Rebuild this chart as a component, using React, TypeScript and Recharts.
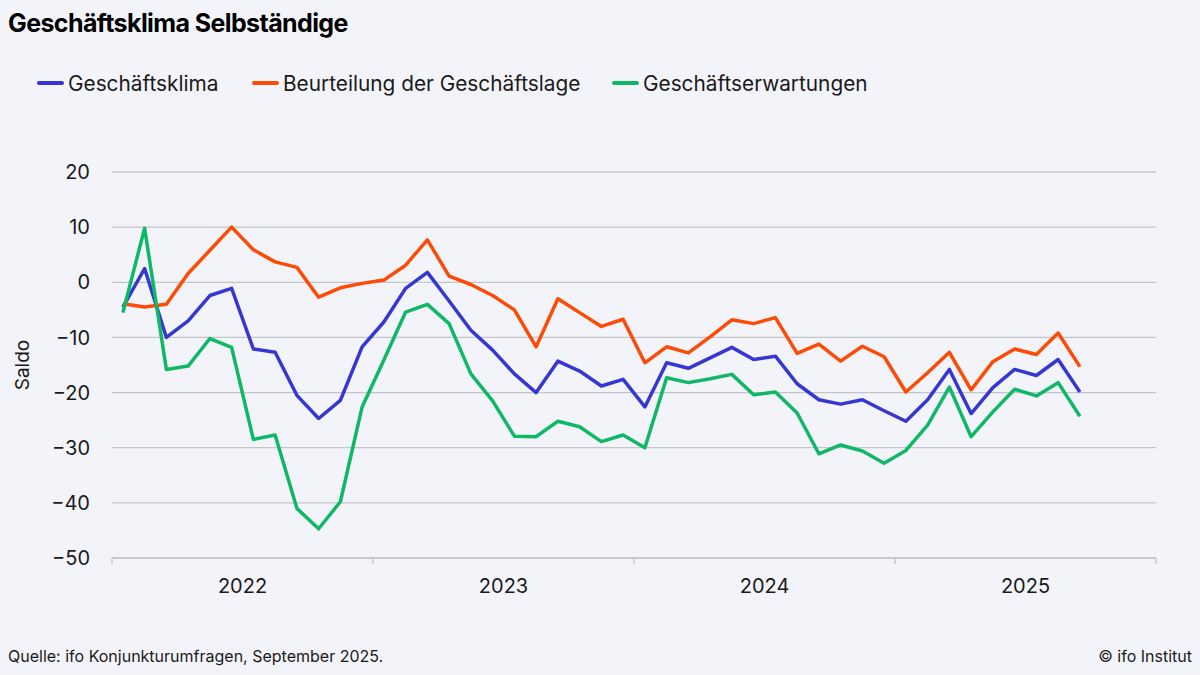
import React from 'react'
import { LineChart, Line, XAxis, YAxis, CartesianGrid } from 'recharts'

// Jan 2022 – Sep 2025, monthly
const months = [
  '2022-01', '2022-02', '2022-03', '2022-04', '2022-05', '2022-06', '2022-07', '2022-08', '2022-09', '2022-10', '2022-11', '2022-12',
  '2023-01', '2023-02', '2023-03', '2023-04', '2023-05', '2023-06', '2023-07', '2023-08', '2023-09', '2023-10', '2023-11', '2023-12',
  '2024-01', '2024-02', '2024-03', '2024-04', '2024-05', '2024-06', '2024-07', '2024-08', '2024-09', '2024-10', '2024-11', '2024-12',
  '2025-01', '2025-02', '2025-03', '2025-04', '2025-05', '2025-06', '2025-07', '2025-08', '2025-09',
]

const klima = [
  -4.5, 2.5, -10.0, -7.0, -2.4, -1.1, -12.1, -12.7, -20.5, -24.7, -21.4, -11.7,
  -7.2, -1.1, 1.8, -3.4, -8.7, -12.3, -16.6, -20.0, -14.3, -16.1, -18.8, -17.6,
  -22.6, -14.6, -15.6, -13.7, -11.8, -14.0, -13.4, -18.4, -21.3, -22.1, -21.3, -23.3,
  -25.2, -21.3, -15.8, -23.8, -19.1, -15.8, -16.9, -14.0, -19.9,
]

const lage = [
  -3.9, -4.5, -4.0, 1.6, 5.8, 10.0, 5.9, 3.7, 2.7, -2.7, -1.0, -0.2,
  0.4, 3.1, 7.7, 1.1, -0.4, -2.4, -5.0, -11.7, -3.0, -5.5, -8.0, -6.7,
  -14.6, -11.7, -12.8, -9.9, -6.8, -7.5, -6.4, -12.9, -11.2, -14.3, -11.6, -13.5,
  -19.9, -16.4, -12.7, -19.5, -14.4, -12.1, -13.1, -9.2, -15.3,
]

const erwartungen = [
  -5.5, 9.8, -15.8, -15.2, -10.2, -11.8, -28.5, -27.7, -41.0, -44.7, -39.8, -22.6,
  -14.1, -5.4, -4.0, -7.5, -16.6, -21.5, -27.9, -28.0, -25.2, -26.2, -28.9, -27.7,
  -30.0, -17.3, -18.2, -17.5, -16.7, -20.4, -19.9, -23.7, -31.1, -29.5, -30.6, -32.8,
  -30.5, -25.9, -19.0, -28.0, -23.5, -19.4, -20.6, -18.2, -24.3,
]

const years = ['2022', '2023', '2024', '2025']
const yTicks = [-50, -40, -30, -20, -10, 0, 10, 20]

const series = [
  { key: 'klima', name: 'Geschäftsklima', color: '#3636d2' },
  { key: 'lage', name: 'Beurteilung der Geschäftslage', color: '#fc4b06' },
  { key: 'erwartungen', name: 'Geschäftserwartungen', color: '#0fb866' },
]

// month slots are centred in their band: slot i covers [i, i+1]
const data = months.map((m, i) => ({
  month: m,
  x: i + 0.5,
  klima: klima[i],
  lage: lage[i],
  erwartungen: erwartungen[i],
}))

const boundaryTicks = [0, 12, 24, 36, 48]
const labelTicks = years.map((_, k) => k * 12 + 6)
const xTicks = [...boundaryTicks, ...labelTicks].sort((a, b) => a - b)

const FONT = 'Inter, "Noto Sans", sans-serif'
const TEXT = '#1a1a1a'
const GRID = '#c4c5cb'

const YearTick = (props: any) => {
  const { x, y, payload } = props
  const v = payload.value
  if (v % 12 === 0) {
    return <line x1={x} x2={x} y1={y} y2={y + 6} stroke={GRID} strokeWidth={1.3} />
  }
  return (
    <text x={x} y={y + 28} textAnchor="middle" dominantBaseline="central" fontSize={20} fill={TEXT} fontFamily={FONT}>
      {years[(v - 6) / 12]}
    </text>
  )
}

const SaldoLabel = (props: any) => {
  const { viewBox } = props
  const cx = viewBox.x + 22
  const cy = viewBox.y + viewBox.height / 2
  return (
    <text x={cx} y={cy} transform={`rotate(-90, ${cx}, ${cy})`} textAnchor="middle" dominantBaseline="central" fontSize={19} fill={TEXT} fontFamily={FONT}>
      Saldo
    </text>
  )
}

const legendOffsets = [37, 252, 612]

export default function App() {
  return (
    <div style={{ position: 'fixed', left: 0, top: 0, width: 1200, height: 675, background: '#f3f4f9', fontFamily: FONT, overflow: 'hidden' }}>
      <div style={{ position: 'absolute', left: 8, top: 8, fontSize: 25, fontWeight: 700, color: '#000', letterSpacing: -0.6 }}>
        Geschäftsklima Selbständige
      </div>
      {series.map((s, i) => (
        <div key={s.key} style={{ position: 'absolute', left: legendOffsets[i], top: 68, display: 'flex', alignItems: 'center', height: 30 }}>
          <span style={{ display: 'inline-block', width: 27, height: 4, borderRadius: 2, background: s.color, marginRight: 4 }} />
          <span style={{ fontSize: 20.8, color: TEXT, fontFamily: FONT }}>{s.name}</span>
        </div>
      ))}
      <LineChart width={1200} height={675} data={data} margin={{ top: 172, right: 44, bottom: 77, left: 0 }}>
        <CartesianGrid vertical={false} stroke={GRID} strokeWidth={1.3} />
        <XAxis
          dataKey="x"
          type="number"
          domain={[0, 48]}
          ticks={xTicks}
          interval={0}
          tick={<YearTick />}
          tickLine={false}
          tickSize={0}
          tickMargin={0}
          height={40}
          axisLine={{ stroke: GRID, strokeWidth: 1.3 }}
        />
        <YAxis
          type="number"
          domain={[-50, 20]}
          ticks={yTicks}
          interval={0}
          width={112}
          tickLine={false}
          axisLine={false}
          tickSize={0}
          tickMargin={22}
          tick={{ fontSize: 20, fill: TEXT, fontFamily: FONT }}
          tickFormatter={(v: number) => String(v).replace('-', '\u2212')}
          label={<SaldoLabel />}
        />
        {series.map((s) => (
          <Line
            key={s.key}
            type="linear"
            dataKey={s.key}
            name={s.name}
            stroke={s.color}
            strokeWidth={3.5}
            strokeLinejoin="round"
            dot={false}
            activeDot={false}
            isAnimationActive={false}
          />
        ))}
      </LineChart>
      <div style={{ position: 'absolute', left: 8, top: 646, fontSize: 16, color: TEXT }}>
        Quelle: ifo Konjunkturumfragen, September 2025.
      </div>
      <div style={{ position: 'absolute', right: 8, top: 646, fontSize: 16, color: TEXT }}>
        © ifo Institut
      </div>
    </div>
  )
}
